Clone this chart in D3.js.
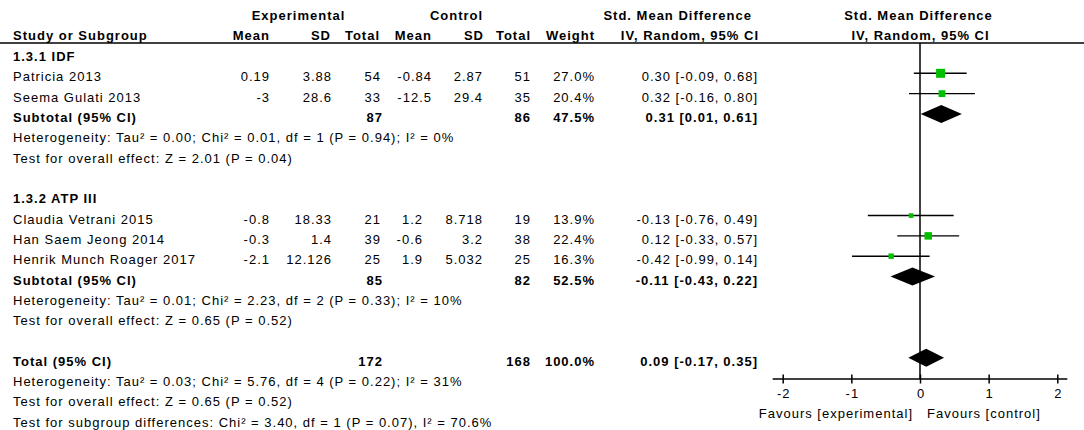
<!DOCTYPE html>
<html>
<head>
    <meta charset="UTF-8">
    <title>Std. Mean Difference forest plot</title>
    <style>
        body {
            margin: 0;
            padding: 0;
            background: #fff;
        }
        svg text {
            font-family: 'Liberation Sans', Arial, sans-serif;
            font-size: 13px;
            letter-spacing: 1px;
            fill: #000;
        }
        .b { font-weight: bold; }
    </style>
</head>
<body>

<svg></svg>

<script src="https://d3js.org/d3.v7.min.js"></script>

<script>

// data
let groupTitles = ["1.3.1 IDF", "1.3.2 ATP III"];
let studyNames = ["Patricia 2013", "Seema Gulati 2013", "Claudia Vetrani 2015", "Han Saem Jeong 2014", "Henrik Munch Roager 2017"];
let studyGroup = [0, 0, 1, 1, 1];
let expMean = ["0.19", "-3", "-0.8", "-0.3", "-2.1"];
let expSD = ["3.88", "28.6", "18.33", "1.4", "12.126"];
let expN = [54, 33, 21, 39, 25];
let ctlMean = ["-0.84", "-12.5", "1.2", "-0.6", "1.9"];
let ctlSD = ["2.87", "29.4", "8.718", "3.2", "5.032"];
let ctlN = [51, 35, 19, 38, 25];
let weights = [27.0, 20.4, 13.9, 22.4, 16.3];
let smd = [0.30, 0.32, -0.13, 0.12, -0.42];
let ciLow = [-0.09, -0.16, -0.76, -0.33, -0.99];
let ciHigh = [0.68, 0.80, 0.49, 0.57, 0.14];

let subExpN = [87, 85];
let subCtlN = [86, 82];
let subWeight = [47.5, 52.5];
let subSmd = [0.31, -0.11];
let subLow = [0.01, -0.43];
let subHigh = [0.61, 0.22];
let subHetero = [
    "Heterogeneity: Tau² = 0.00; Chi² = 0.01, df = 1 (P = 0.94); I² = 0%",
    "Heterogeneity: Tau² = 0.01; Chi² = 2.23, df = 2 (P = 0.33); I² = 10%"
];
let subEffect = [
    "Test for overall effect: Z = 2.01 (P = 0.04)",
    "Test for overall effect: Z = 0.65 (P = 0.52)"
];

let totalExpN = 172, totalCtlN = 168, totalWeight = 100.0;
let totalSmd = 0.09, totalLow = -0.17, totalHigh = 0.35;
let totalNotes = [
    "Heterogeneity: Tau² = 0.03; Chi² = 5.76, df = 4 (P = 0.22); I² = 31%",
    "Test for overall effect: Z = 0.65 (P = 0.52)",
    "Test for subgroup differences: Chi² = 3.40, df = 1 (P = 0.07), I² = 70.6%"
];

let axisTicks = [-2, -1, 0, 1, 2];
let favours = ["Favours [experimental]", "Favours [control]"];

// dimensions
let w = 1084, h = 430;
let ls = 1; // letter spacing, trailing gap on right aligned text

let svg = d3.select("svg")
    .attr("width", w)
    .attr("height", h);

// column right edges
let col = {
    name: 13, expMean: 269, expSD: 331, expN: 380, ctlMean: 431, ctlSD: 482,
    ctlN: 530, weight: 594, ci: 757
};

// build the row list
let rows = [];
groupTitles.forEach((g, gi) => {
    rows.push({type: "title", text: g});
    studyNames.forEach((s, i) => {
        if (studyGroup[i] === gi) rows.push({type: "study", i: i, g: gi});
    });
    rows.push({type: "subtotal", g: gi});
    rows.push({type: "note", text: subHetero[gi]});
    rows.push({type: "note", text: subEffect[gi]});
    rows.push({type: "blank"});
});
rows.push({type: "total"});
totalNotes.forEach(t => rows.push({type: "note", text: t}));
rows.forEach((r, i) => r.row = i);

let pitch = 20.32;
let y = d3.scaleLinear().domain([0, rows.length - 1]).range([61, 61 + pitch * (rows.length - 1)]);
let x = d3.scaleLinear().domain([-2, 2]).range([782.7, 1057.3]);
let side = d3.scaleLinear().domain([0, 27]).range([0, 9]);

function txt(g, xp, yp, s, anchor, bold) {
    let t = g.append("text")
        .attr("x", anchor === "end" ? xp + ls : anchor === "middle" ? xp + ls / 2 : xp)
        .attr("y", yp)
        .attr("text-anchor", anchor || "start")
        .text(s);
    if (bold) t.attr("class", "b");
    return t;
}

// header
let head = svg.append("g");
txt(head, 298, 20, "Experimental", "middle", true);
txt(head, 456, 20, "Control", "middle", true);
txt(head, 751, 20, "Std. Mean Difference", "end", true);
txt(head, x(0) - 2, 20, "Std. Mean Difference", "middle", true);
txt(head, col.name, 40, "Study or Subgroup", "start", true);
txt(head, col.expMean, 40, "Mean", "end", true);
txt(head, col.expSD - 1, 40, "SD", "end", true);
txt(head, col.expN - 1, 40, "Total", "end", true);
txt(head, col.ctlMean, 40, "Mean", "end", true);
txt(head, col.ctlSD + 1, 40, "SD", "end", true);
txt(head, col.ctlN, 40, "Total", "end", true);
txt(head, col.weight, 40, "Weight", "end", true);
txt(head, 758, 40, "IV, Random, 95% CI", "end", true);
txt(head, x(0), 40, "IV, Random, 95% CI", "middle", true);

head.append("line")
    .attr("x1", 0).attr("x2", w)
    .attr("y1", 43).attr("y2", 43)
    .attr("stroke", "#000")
    .attr("stroke-width", 1.6);

// zero line
let axisY = 379;
svg.append("line")
    .attr("x1", x(0)).attr("x2", x(0))
    .attr("y1", 43).attr("y2", axisY)
    .attr("stroke", "#000")
    .attr("stroke-width", 1.5);

let fmtCI = (m, lo, hi) => `${m.toFixed(2)} [${lo.toFixed(2)}, ${hi.toFixed(2)}]`;
let fmtW = v => `${v.toFixed(1)}%`;

function diamond(yp, m, lo, hi) {
    svg.append("path")
        .attr("d", `M${x(lo)},${yp} L${x(m)},${yp - 9} L${x(hi)},${yp} L${x(m)},${yp + 9} Z`)
        .attr("fill", "#000");
}

let table = svg.append("g");
rows.forEach(r => {
    let b = y(r.row);
    let my = b - 8;
    if (r.type === "title") {
        txt(table, col.name, b, r.text, "start", true);
    } else if (r.type === "note") {
        txt(table, col.name, b, r.text, "start", false);
    } else if (r.type === "study") {
        let i = r.i;
        txt(table, col.name, b, studyNames[i], "start");
        txt(table, col.expMean, b, expMean[i], "end");
        txt(table, col.expSD, b, expSD[i], "end");
        txt(table, col.expN, b, expN[i], "end");
        // second subgroup's control mean sits a little further left
        txt(table, col.ctlMean - (r.g === 1 ? 9 : 0), b, ctlMean[i], "end");
        txt(table, col.ctlSD, b, ctlSD[i], "end");
        txt(table, col.ctlN, b, ctlN[i], "end");
        txt(table, col.weight, b, fmtW(weights[i]), "end");
        txt(table, col.ci, b, fmtCI(smd[i], ciLow[i], ciHigh[i]), "end");

        svg.append("line")
            .attr("x1", x(ciLow[i])).attr("x2", x(ciHigh[i]))
            .attr("y1", my).attr("y2", my)
            .attr("stroke", "#000")
            .attr("stroke-width", 1.4);
        let s = side(weights[i]);
        svg.append("rect")
            .attr("x", x(smd[i]) - s / 2)
            .attr("y", my - s / 2)
            .attr("width", s)
            .attr("height", s)
            .attr("fill", "#00c000");
    } else if (r.type === "subtotal") {
        let g = r.g;
        txt(table, col.name, b, "Subtotal (95% CI)", "start", true);
        txt(table, col.expN + 2, b, subExpN[g], "end", true);
        txt(table, col.ctlN, b, subCtlN[g], "end", true);
        txt(table, col.weight, b, fmtW(subWeight[g]), "end", true);
        txt(table, col.ci, b, fmtCI(subSmd[g], subLow[g], subHigh[g]), "end", true);
        diamond(my, subSmd[g], subLow[g], subHigh[g]);
    } else if (r.type === "total") {
        txt(table, col.name, b, "Total (95% CI)", "start", true);
        txt(table, col.expN + 2, b, totalExpN, "end", true);
        txt(table, col.ctlN, b, totalCtlN, "end", true);
        txt(table, col.weight, b, fmtW(totalWeight), "end", true);
        txt(table, col.ci, b, fmtCI(totalSmd, totalLow, totalHigh), "end", true);
        diamond(my, totalSmd, totalLow, totalHigh);
    }
});

// axis
let axis = svg.append("g")
    .attr("transform", `translate(0, ${axisY})`)
    .call(d3.axisBottom(x).tickValues(axisTicks).tickSize(4.5).tickSizeOuter(0).tickFormat(d3.format("d")));
axis.attr("font-family", null).attr("font-size", null);
axis.select(".domain").remove();
axis.selectAll(".tick line")
    .attr("y1", -4.5)
    .attr("stroke-width", 1.5);
axis.selectAll(".tick text")
    .attr("y", 19)
    .attr("dy", null)
    .attr("x", ls / 2)
    .text(d => d < 0 ? "-" + Math.abs(d) : d);
axis.append("line")
    .attr("x1", x(-2) - 10).attr("x2", x(2) + 10)
    .attr("stroke", "#000")
    .attr("stroke-width", 1.6);

txt(svg, x(0) - 8, 418, favours[0], "end");
txt(svg, x(0) + 7, 418, favours[1], "start");

</script>

</body>
</html>
